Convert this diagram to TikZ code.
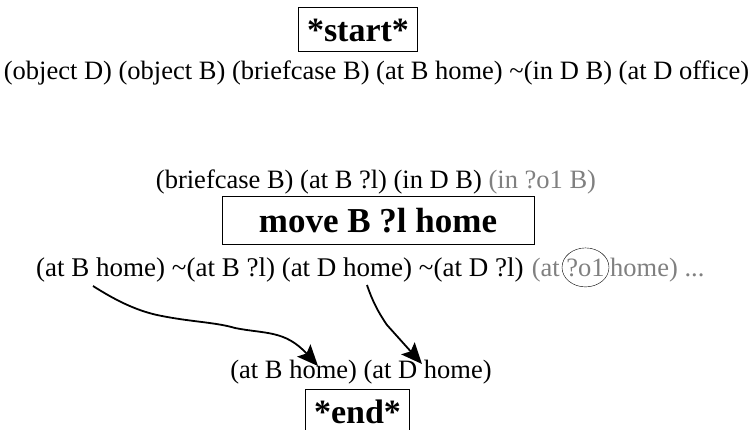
\documentclass[tikz,border=0pt]{standalone}
\usepackage{fontspec}
\setmainfont{Liberation Serif}
\usetikzlibrary{arrows.meta,calc}
\definecolor{faded}{RGB}{128,128,128}
\begin{document}
\begin{tikzpicture}[x=1pt,y=-1pt,
  lit/.style={font=\fontsize{26.5}{29}\selectfont, inner sep=0pt, anchor=base},
  opbox/.style={draw, line width=1pt, font=\fontsize{34}{37}\selectfont\bfseries, inner xsep=9pt, inner ysep=0pt, minimum height=44pt},
  link/.style={line width=1.8pt, -{Stealth[length=21pt,width=18pt,inset=4pt]}}]
\useasboundingbox (0,0) rectangle (750,430);
\node[opbox] (start) at (358,30) {*start*};
\node[lit] (init) at (376.5,80) {(object D) (object B) (briefcase B) (at B home) \textasciitilde(in D B) (at D office)};
\node[lit] (pre) at (376,189) {(briefcase B) (at B ?l) (in D B) \textcolor{faded}{(in ?o1 B)}};
\node[opbox, minimum width=312pt, minimum height=48pt, font=\fontsize{35}{38}\selectfont\bfseries] (move) at (378,221) {move B ?l home};
\node[lit, anchor=base west, font=\fontsize{27}{30}\selectfont] (eff) at (36,277) {(at B home) \textasciitilde(at B ?l) (at D home) \textasciitilde(at D ?l)};
\node[lit, anchor=base east, text=faded] (effat) at (560,277) {(at};
\node[lit, anchor=base, text=faded] (o1) at (585.5,277) {?o1};
\draw (o1.center)+(0,-1) ellipse (23.5pt and 19.5pt);
\node[lit, anchor=base west, text=faded] (effrest) at (610,277) {home) ...};
\node[lit] (goal) at (361,379) {(at B home) (at D home)};
\node[opbox, anchor=north] (end) at (357.5,389) {*end*};
\coordinate (bsrc) at (93,286);
\coordinate (bdst) at (318,366);
\coordinate (dsrc) at (367,285);
\coordinate (ddst) at (422,364);
\draw[link] (bsrc) .. controls (115,300) and (135,310) .. (157,315)
  .. controls (190,322) and (215,322) .. (235,328)
  .. controls (265,334) and (285,330) .. (bdst);
\draw[link] (dsrc) .. controls (372,300) and (378,312) .. (387,325)
  -- (ddst);
\end{tikzpicture}
\end{document}
